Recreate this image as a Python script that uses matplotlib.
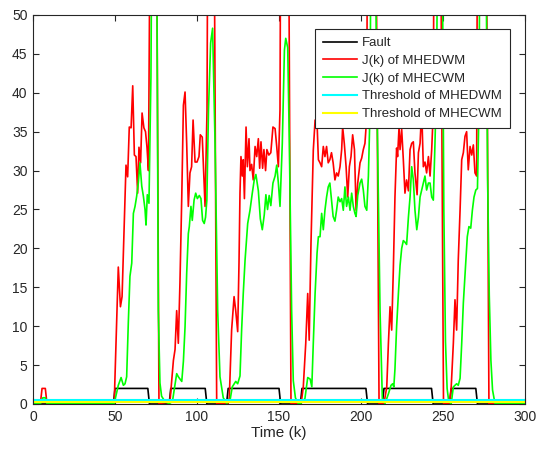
import numpy as np
import matplotlib
matplotlib.use("Agg")
import matplotlib.pyplot as plt

plt.rcParams['font.family'] = ['Liberation Sans', 'DejaVu Sans']

# fault windows (fault signal = 2 inside, 0 outside)
fault_on = [50, 84, 119, 164, 214, 255]
fault_off = [70, 105, 150, 203, 243, 270]
fault_level = 2.0

thr_edwm = 0.5   # threshold of MHEDWM
thr_ecwm = 0.2   # threshold of MHECWM

# J(k) of MHEDWM, (k, value) pairs
j_edwm = [
    (0, 0.05), (4.5, 0.05), (5.5, 2.0), (7.5, 2.0), (8.5, 0.05), (49.5, 0.05),
    (52.0, 17.6), (53.3, 12.5), (54.3, 13.8), (56.7, 30.7), (57.7, 29.2), (58.7, 35.6),
    (59.8, 35.5), (60.8, 40.9), (61.8, 32.0), (62.8, 31.8), (63.8, 27.1), (64.6, 33.0),
    (65.6, 31.0), (66.5, 37.4), (67.6, 35.5), (68.6, 35.0), (69.5, 33.0), (70.4, 30.0),
    (72.5, 100), (74.5, 100), (76.8, 0.05),
    (83.5, 0.3), (85.6, 5.6), (86.6, 7.0), (87.6, 12.0), (88.6, 7.8), (89.6, 15.6),
    (90.7, 26.6), (91.7, 38.4), (92.7, 40.1), (93.7, 33.5), (94.7, 25.4), (95.7, 29.7),
    (96.7, 30.5), (97.6, 36.5), (98.8, 31.1), (100.0, 31.1), (101.2, 31.8), (102.0, 34.6),
    (103.2, 34.3), (104.0, 30.0), (104.9, 25.4), (106.1, 37.8), (107.2, 100), (109.5, 100),
    (112.0, 0.05),
    (119.0, 0.05), (119.7, 0.9), (121.1, 9.5), (122.6, 13.8), (123.6, 12.0), (124.8, 9.3),
    (125.6, 18.1), (126.2, 27.1), (126.8, 31.8), (127.6, 29.3), (128.2, 31.4), (128.9, 26.4),
    (129.9, 35.6), (130.7, 30.5), (131.7, 34.1), (132.3, 30.0), (133.3, 30.8), (134.3, 28.8),
    (135.4, 33.1), (136.4, 31.8), (137.4, 34.1), (138.2, 30.3), (139.0, 33.7), (140.0, 30.3),
    (140.8, 32.7), (141.8, 30.0), (142.6, 32.7), (143.8, 32.0), (145.0, 32.3), (146.3, 35.6),
    (147.6, 35.4), (148.6, 33.1), (149.6, 30.5), (150.6, 37.8), (151.6, 100), (155.0, 100),
    (157.3, 0.05),
    (163.5, 0.05), (164.8, 2.2), (166.3, 7.8), (167.5, 14.2), (168.4, 8.2), (169.5, 20.7),
    (170.9, 32.6), (172.0, 36.5), (173.2, 36.1), (174.0, 31.4), (175.0, 31.0), (176.0, 30.5),
    (177.0, 33.1), (178.0, 31.8), (179.0, 33.1), (180.0, 31.0), (181.0, 31.4), (182.0, 32.3),
    (183.0, 31.0), (184.1, 28.8), (185.1, 29.7), (186.1, 29.3), (187.2, 30.5), (188.2, 32.7),
    (188.8, 35.6), (189.8, 33.5), (190.9, 30.5), (191.9, 26.6), (192.9, 30.5), (193.9, 31.8),
    (194.9, 34.6), (196.0, 32.7), (197.0, 24.9), (198.0, 28.4), (199.4, 31.0), (200.4, 31.6),
    (201.4, 32.7), (202.4, 33.5), (203.5, 36.9), (204.5, 100), (208.0, 100), (211.0, 0.05),
    (214.0, 0.05), (215.7, 2.2), (216.7, 7.8), (217.7, 12.5), (218.7, 9.5), (219.7, 17.2),
    (220.7, 26.6), (221.7, 32.9), (222.3, 31.8), (223.2, 35.6), (223.8, 32.7), (224.8, 35.3),
    (225.8, 31.4), (226.8, 27.1), (227.8, 28.8), (228.9, 27.4), (229.9, 32.7), (230.9, 33.5),
    (231.9, 33.7), (232.9, 29.7), (234.2, 26.9), (235.0, 32.3), (236.0, 33.5), (237.0, 37.8),
    (238.0, 30.5), (239.0, 31.1), (240.0, 29.7), (241.1, 31.8), (242.1, 29.3), (243.1, 32.7),
    (244.1, 37.8), (245.1, 100), (247.5, 100), (250.3, 0.05),
    (254.0, 0.05), (255.0, 2.2), (256.3, 7.8), (257.3, 13.4), (258.3, 9.5), (259.3, 18.5),
    (260.4, 24.9), (261.4, 31.4), (262.4, 32.3), (263.4, 34.4), (264.4, 35.0), (265.4, 30.1),
    (266.5, 33.1), (267.5, 32.0), (268.5, 33.3), (269.5, 29.7), (270.5, 29.3), (271.5, 100),
    (275.5, 100), (278.0, 0.05), (300, 0.05),
]

# J(k) of MHECWM, (k, value) pairs
j_ecwm = [
    (0, 0.05), (4.5, 0.05), (6.0, 0.8), (7.5, 0.8), (8.5, 0.05), (49.5, 0.05),
    (52.0, 2.4), (53.7, 3.4), (55.1, 2.4), (56.1, 2.6), (57.1, 3.5), (58.1, 10.4),
    (59.1, 16.4), (60.2, 18.1), (61.2, 24.5), (62.2, 25.4), (63.2, 26.7), (64.2, 28.4),
    (65.2, 31.0), (66.3, 28.0), (67.3, 26.7), (68.3, 25.0), (68.9, 23.0), (69.7, 26.9),
    (70.7, 25.8), (71.9, 42.0), (73.0, 80), (75.0, 80), (76.4, 12.0), (77.4, 2.7),
    (78.4, 1.0), (80.5, 0.3), (83.0, 0.05), (85.0, 0.3), (86.6, 2.5), (87.6, 3.9),
    (88.6, 3.5), (90.7, 2.9), (91.7, 5.5), (92.7, 9.9), (93.7, 16.8), (94.7, 21.9),
    (95.3, 22.8), (96.3, 25.4), (97.1, 23.6), (98.2, 26.2), (99.2, 27.1), (100.2, 26.4),
    (101.4, 26.8), (102.4, 26.4), (103.4, 23.6), (104.4, 23.2), (105.2, 24.0), (106.0, 26.2),
    (107.0, 37.8), (108.3, 46.4), (109.5, 48.3), (111.0, 33.5), (112.6, 12.0), (114.0, 3.5),
    (116.0, 0.8), (118.0, 0.1), (120.0, 0.3), (121.5, 2.2), (123.6, 2.9), (124.8, 2.6),
    (126.2, 3.6), (127.2, 9.5), (128.2, 14.2), (129.3, 18.5), (130.9, 23.2), (132.3, 24.9),
    (133.7, 27.1), (134.9, 28.8), (135.9, 29.5), (137.4, 27.4), (138.6, 23.8), (139.8, 22.4),
    (141.0, 24.3), (142.0, 26.9), (143.0, 25.0), (144.0, 26.8), (145.0, 25.5), (146.3, 28.4),
    (147.6, 29.3), (148.6, 30.7), (149.6, 28.4), (150.6, 25.4), (152.0, 33.5), (153.3, 45.5),
    (154.1, 47.0), (155.3, 45.8), (156.3, 33.5), (157.7, 12.0), (158.7, 3.0), (160.0, 0.8),
    (161.5, 0.1), (163.5, 0.1), (165.8, 0.7), (167.5, 3.4), (169.0, 3.2), (170.0, 2.2),
    (170.9, 7.8), (172.0, 14.2), (173.2, 19.4), (174.0, 21.5), (175.0, 21.5), (176.0, 24.5),
    (177.0, 22.4), (178.0, 24.9), (179.0, 26.6), (180.0, 27.9), (181.0, 28.4), (182.0, 26.2),
    (183.0, 24.1), (184.1, 23.5), (185.1, 24.9), (186.1, 26.6), (187.2, 26.0), (188.2, 26.4),
    (189.2, 24.9), (190.2, 27.9), (191.2, 25.4), (192.3, 26.6), (193.3, 24.9), (194.3, 27.1),
    (195.3, 25.4), (196.3, 24.5), (197.0, 24.1), (198.0, 26.8), (199.4, 28.4), (200.4, 28.9),
    (201.4, 27.5), (202.4, 25.4), (203.5, 24.9), (204.5, 29.3), (205.5, 37.8), (206.5, 80),
    (208.0, 80), (209.5, 42.0), (211.6, 12.0), (213.0, 0.7), (214.6, 0.05), (216.7, 1.3),
    (218.3, 2.4), (219.3, 2.6), (220.0, 2.2), (220.7, 4.5), (221.7, 9.9), (222.9, 14.6),
    (223.8, 17.8), (224.8, 20.0), (225.8, 21.0), (226.8, 20.8), (227.8, 20.5), (228.9, 24.0),
    (229.9, 26.6), (230.9, 30.5), (231.9, 28.8), (232.9, 24.9), (234.0, 22.4), (235.0, 24.0),
    (236.0, 26.6), (237.0, 27.5), (238.0, 28.4), (239.0, 29.3), (240.0, 27.5), (241.1, 28.4),
    (242.1, 28.4), (243.1, 26.6), (244.1, 26.2), (245.1, 33.5), (246.1, 42.0), (247.3, 80),
    (249.0, 80), (250.5, 25.0), (251.5, 8.0), (252.5, 2.0), (253.5, 0.3), (255.0, 0.05),
    (256.3, 2.2), (258.3, 2.6), (259.3, 2.4), (260.4, 3.3), (261.4, 7.8), (262.4, 13.0),
    (263.8, 18.1), (264.8, 21.5), (265.8, 22.8), (266.9, 22.6), (267.9, 24.9), (268.9, 26.6),
    (270.0, 27.5), (271.0, 27.7), (271.9, 37.8), (273.0, 80), (275.5, 80), (277.2, 29.0),
    (278.2, 14.0), (279.2, 5.6), (280.2, 1.8), (281.7, 0.05), (300, 0.05),
]

k = np.arange(0, 301)
fault = np.zeros(k.shape)
for a, b in zip(fault_on, fault_off):
    fault[(k >= a) & (k <= b)] = fault_level

red_k, red_v = np.array(j_edwm).T
grn_k, grn_v = np.array(j_ecwm).T

fig = plt.figure(figsize=(5.36, 4.53), dpi=100)
ax = fig.add_axes([0.0616, 0.1082, 0.9179, 0.8587])

ax.plot(k, fault, color='black', lw=1.2, label='Fault')
ax.plot(red_k, red_v, color='red', lw=1.2, label='J(k) of MHEDWM')
ax.plot(grn_k, grn_v, color='#00ff00', lw=1.2, label='J(k) of MHECWM')
ax.plot([0, 300], [thr_edwm, thr_edwm], color='cyan', lw=1.5, label='Threshold of MHEDWM')
ax.plot([0, 300], [thr_ecwm, thr_ecwm], color='yellow', lw=1.5, label='Threshold of MHECWM')

ax.set_xlim(0, 300)
ax.set_ylim(0, 50)
ax.set_xticks(np.arange(0, 301, 50))
ax.set_yticks(np.arange(0, 51, 5))
ax.tick_params(direction='in', length=4, width=0.8, top=True, right=True,
               labelsize=10, colors='#262626', pad=4)
for s in ax.spines.values():
    s.set_color('#262626')
    s.set_linewidth(0.8)
ax.set_xlabel('Time (k)', fontsize=11, color='#262626', labelpad=2)

leg = ax.legend(loc='upper right', bbox_to_anchor=(0.9695, 0.964), borderaxespad=0,
                fontsize=9.5, handlelength=2.6, handletextpad=0.4, labelspacing=0.42,
                borderpad=0.6, fancybox=False, framealpha=1, edgecolor='#262626')
leg.get_frame().set_linewidth(0.8)
for t in leg.get_texts():
    t.set_color('#262626')

fig.savefig('out.png', dpi=100)
